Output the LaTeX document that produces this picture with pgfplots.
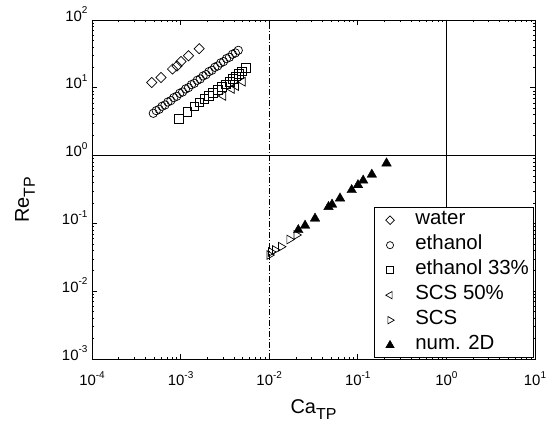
\documentclass[border=0pt]{standalone}
\usepackage{pgfplots}
\pgfplotsset{compat=1.18}
\usepackage{fontspec}
\setmainfont{Liberation Sans}

% power-of-ten tick labels set in the text font
\newcommand{\tp}[1]{10\raisebox{0.5em}{\fontsize{10}{10}\selectfont #1}}

\pgfplotsset{
  pts/.style={only marks, black,
    legend image code/.code={%
      \path (0bp,0bp) (36bp,0bp);
      \draw[mark repeat=2, mark phase=2, every mark/.append style={scale=0.85}]
      plot coordinates {(0bp,0bp) (15bp,0bp) (36bp,0bp)};}},
}

\begin{document}
\begin{tikzpicture}
\begin{axis}[
  scale only axis, width=443bp, height=339bp,
  xmode=log, ymode=log,
  xmin=1e-4, xmax=1e1, ymin=1e-3, ymax=1e2,
  xtick={1e-4,1e-3,1e-2,1e-1,1e0,1e1},
  xticklabels={\tp{-4},\tp{-3},\tp{-2},\tp{-1},\tp{0},\tp{1}},
  ytick={1e-3,1e-2,1e-1,1e0,1e1,1e2},
  yticklabels={\tp{-3},\tp{-2},\tp{-1},\tp{0},\tp{1},\tp{2}},
  tick label style={font=\fontsize{15}{18}\selectfont},
  xticklabel style={yshift=-9bp},
  yticklabel style={yshift=6bp, xshift=-1bp},
  axis line style={line width=0.8bp},
  tick style={line width=0.6bp, black},
  major tick length=5bp, minor tick length=2.5bp,
  xlabel={Ca\raisebox{-0.3em}{\fontsize{16}{16}\selectfont TP}},
  ylabel={Re\raisebox{-0.3em}{\fontsize{16}{16}\selectfont TP}},
  label style={font=\fontsize{20}{24}\selectfont},
  xlabel style={at={(axis description cs:0.5,-0.15)}, anchor=center},
  ylabel style={at={(axis description cs:-0.151,0.47)}, anchor=center},
  legend cell align=left,
  legend style={at={(0.996,0.003)}, anchor=south east, draw=black, fill=white,
    line width=0.6bp, inner sep=0bp, row sep=0bp,
    font=\fontsize{20.5}{24}\selectfont,
    nodes={inner sep=4bp, text height=13bp, text depth=4bp}},
]

% reference lines Re = 1, Ca = 1 and Ca = 0.01
\addplot[forget plot, black, line width=0.8bp] coordinates {(1e-4,1) (1e1,1)};
\addplot[forget plot, black, line width=0.8bp] coordinates {(1,1e-3) (1,1e2)};
\addplot[forget plot, black, line width=0.6bp, dash pattern=on 6bp off 2bp on 1bp off 2bp]
  coordinates {(1e-2,1e-3) (1e-2,1e2)};

% water
\addplot[pts, line width=0.7bp, mark=square, mark size=3.6bp, mark options={rotate=45}]
coordinates {
(4.72e-4,11.98) (6.01e-4,14.2) (8.11e-4,18.9) (9.10e-4,21.0)
(1.01e-3,24.4) (1.23e-3,29.7) (1.62e-3,37.7)
};
\addlegendentry{water}

% ethanol
\addplot[pts, line width=0.7bp, mark=o, mark size=4.2bp]
coordinates {
(4.92e-4,4.21) (5.31e-4,4.60) (5.73e-4,4.82) (6.18e-4,5.34) (6.67e-4,5.58)
(7.19e-4,6.18) (7.76e-4,6.47) (8.38e-4,7.16) (9.05e-4,7.50) (9.77e-4,8.30)
(1.054e-3,8.68) (1.138e-3,9.61) (1.228e-3,10.06) (1.325e-3,11.13) (1.429e-3,11.65)
(1.542e-3,12.91) (1.664e-3,13.50) (1.795e-3,14.95) (1.936e-3,15.65) (2.089e-3,17.33)
(2.254e-3,18.14) (2.432e-3,20.08) (2.624e-3,21.01) (2.831e-3,23.27) (3.055e-3,24.35)
(3.30e-3,26.97) (3.56e-3,28.22) (3.85e-3,31.24) (4.15e-3,32.70) (4.48e-3,35.7)
};
\addlegendentry{ethanol}

% ethanol 33%
\addplot[pts, line width=0.7bp, mark=square, mark size=4.2bp]
coordinates {
(9.6e-4,3.50) (1.20e-3,4.40) (1.42e-3,5.30) (1.62e-3,6.07) (1.84e-3,6.83)
(2.09e-3,7.57) (2.32e-3,8.38) (2.64e-3,9.28) (2.93e-3,10.3) (3.25e-3,11.2)
(3.61e-3,12.2) (3.90e-3,13.5) (4.22e-3,14.9) (4.56e-3,16.0) (4.93e-3,17.4)
(5.47e-3,19.8)
};
\addlegendentry{ethanol 33\%}

% SCS 50%
\addplot[pts, line width=0.7bp, mark=triangle, mark size=5bp, mark options={rotate=90}]
coordinates {
(3.03e-3,7.57) (3.78e-3,9.60) (4.22e-3,10.6) (5.02e-3,12.3)
};
\addlegendentry{SCS 50\%}

% SCS
\addplot[pts, line width=0.7bp, mark=triangle, mark size=5bp, mark options={rotate=-90}]
coordinates {
(1.007e-2,0.0342) (1.05e-2,0.0379) (1.16e-2,0.0406) (1.36e-2,0.0453)
(1.69e-2,0.0579) (2.03e-2,0.0675)
};
\addlegendentry{SCS}

% num. 2D
\addplot[pts, mark=triangle*, mark size=5.5bp]
coordinates {
(2.13e-2,0.080) (2.54e-2,0.093) (3.29e-2,0.118) (4.67e-2,0.175)
(5.12e-2,0.190) (6.30e-2,0.234) (8.53e-2,0.311) (0.1005,0.368)
(0.115,0.430) (0.144,0.526) (0.211,0.770)
};
\addlegendentry{num. 2D}

\end{axis}
\pgfresetboundingbox
\path[use as bounding box] ([shift={(-92bp,-71bp)}]current axis.south west)
  rectangle ([shift={(23bp,20bp)}]current axis.north east);
\end{tikzpicture}
\end{document}
